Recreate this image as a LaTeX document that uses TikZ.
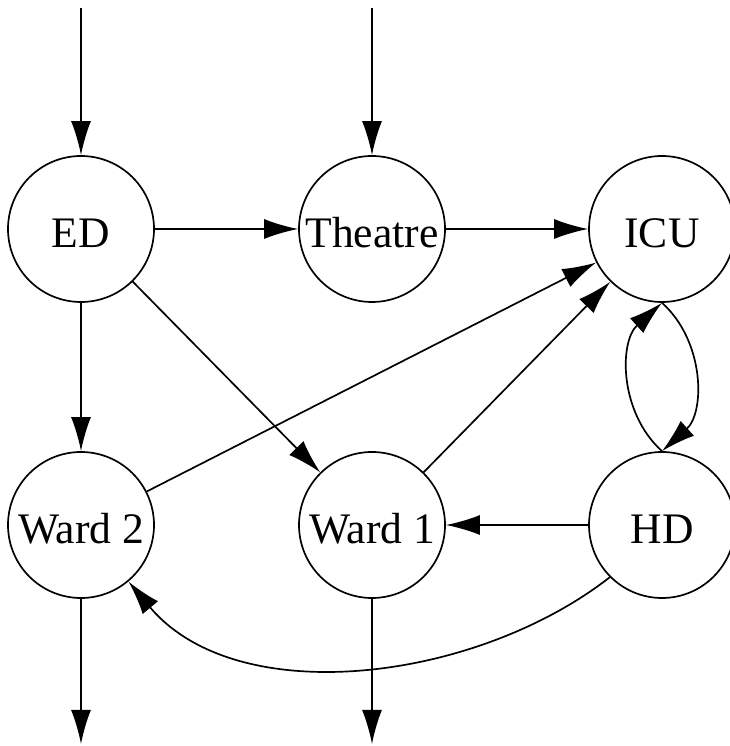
\documentclass[tikz,border=0pt]{standalone}
\usepackage{fontspec}
\setmainfont{Liberation Serif}
\usetikzlibrary{arrows.meta}

\begin{document}
\begin{tikzpicture}[
  unit/.style={draw, circle, line width=1.2pt, minimum size=3.65cm, inner sep=0pt,
    text height=0.95cm, text depth=0cm, font=\fontsize{31}{36}\selectfont},
  flow/.style={-{Latex[length=0.85cm,width=0.5cm]}, line width=1.2pt}]
  \useasboundingbox (0,0) rectangle (18.25,18.65);

  % Top row
  \node[unit] (ED) at (2.025,12.925) {ED};
  \node[unit] (Theatre) at (9.3,12.925) {Theatre};
  \node[unit] (ICU) at (16.55,12.925) {ICU};

  % Bottom row
  \node[unit] (Ward2) at (2.025,5.525) {Ward 2};
  \node[unit] (Ward1) at (9.3,5.525) {Ward 1};
  \node[unit] (HD) at (16.55,5.525) {HD};

  % Arrivals and departures
  \coordinate (EDin) at (2.025,18.45);
  \coordinate (Theatrein) at (9.3,18.45);
  \coordinate (Ward2out) at (2.025,0.05);
  \coordinate (Ward1out) at (9.3,0.05);

  \draw[flow] (EDin) -- (ED);
  \draw[flow] (Theatrein) -- (Theatre);
  \draw[flow] (Ward2) -- (Ward2out);
  \draw[flow] (Ward1) -- (Ward1out);

  % Transfers
  \draw[flow] (ED) -- (Theatre);
  \draw[flow] (Theatre) -- (ICU);
  \draw[flow] (ED) -- (Ward2);
  \draw[flow] (ED) -- (Ward1);
  \draw[flow] (Ward2) -- (ICU);
  \draw[flow] (Ward1) -- (ICU);
  \draw[flow] (HD) -- (Ward1);

  % ICU <-> HD
  \draw[flow] (ICU.south) to[bend left=48] (HD.north);
  \draw[flow] (HD.north) to[bend left=48] (ICU.south);

  % HD back to Ward 2
  \draw[flow] (HD.225) to[out=218, in=310, looseness=0.9] (Ward2.310);
\end{tikzpicture}
\end{document}
